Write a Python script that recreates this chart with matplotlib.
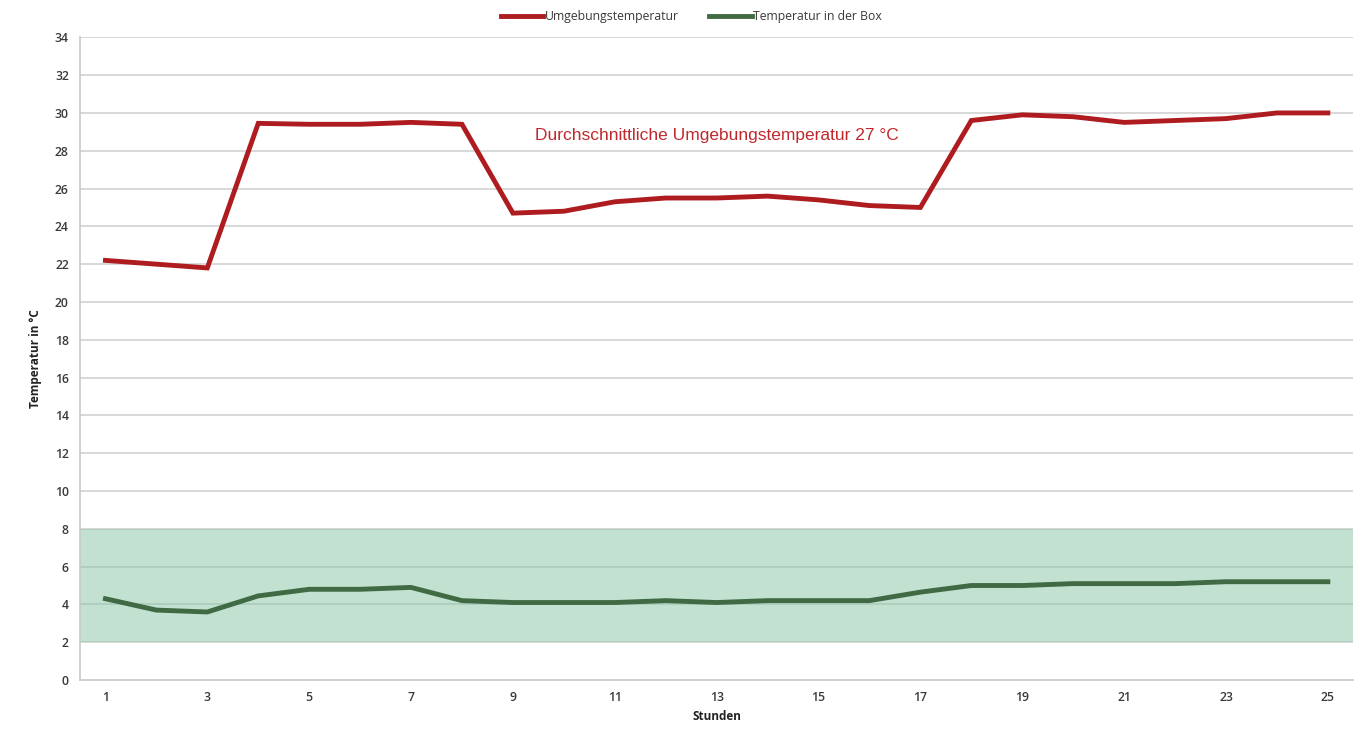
import matplotlib
matplotlib.use("Agg")
import matplotlib.pyplot as plt
from matplotlib import font_manager

# Stunden
stunden = list(range(1, 26))

# Umgebungstemperatur
umgebung = [22.2, 22.0, 21.8, 29.45, 29.4, 29.4, 29.5, 29.4, 24.7, 24.8,
            25.3, 25.5, 25.5, 25.6, 25.4, 25.1, 25.0, 29.6, 29.9, 29.8,
            29.5, 29.6, 29.7, 30.0, 30.0]

# Temperatur in der Box
box = [4.3, 3.7, 3.6, 4.45, 4.8, 4.8, 4.9, 4.2, 4.1, 4.1,
       4.1, 4.2, 4.1, 4.2, 4.2, 4.2, 4.65, 5.0, 5.0, 5.1,
       5.1, 5.1, 5.2, 5.2, 5.2]

band_unten = 2
band_oben = 8
y_ticks = list(range(0, 36, 2))
x_ticks = list(range(1, 26, 2))

namen = [f.name for f in font_manager.fontManager.ttflist]
schmal = "Liberation Sans Narrow" if "Liberation Sans Narrow" in namen else "Liberation Sans"

plt.rcParams['font.family'] = ['Open Sans', 'DejaVu Sans']

fig = plt.figure(figsize=(13.67, 7.32), dpi=100)
ax = fig.add_axes([0.0585, 0.071, 0.9315, 0.878])

# Gitterlinien, darueber halbtransparentes Band (Linien bleiben sichtbar)
for y in y_ticks[1:]:
    ax.axhline(y, color="#d2d2d2", lw=1.2, zorder=1)
ax.axhspan(band_unten, band_oben, color="#87c5a5", alpha=0.5, lw=0, zorder=2)

ax.plot(stunden, umgebung, color="#ae1c1f", lw=3.5, label="Umgebungstemperatur",
        zorder=3, solid_joinstyle="miter")
ax.plot(stunden, box, color="#3f6a44", lw=3.5, label="Temperatur in der Box",
        zorder=3, solid_joinstyle="miter")

ax.text(13.0, 28.8, "Durchschnittliche Umgebungstemperatur 27 °C", color="#c0282d",
        fontsize=12.5, family=schmal, ha="center", va="center")

ax.set_xlim(0.5, 25.5)
ax.set_ylim(0, 34)
ax.set_xticks(x_ticks)
ax.set_yticks(y_ticks)
ax.tick_params(axis="both", length=0, labelsize=8.8, labelcolor="#3a3a3a", pad=8)
for lab in ax.get_xticklabels() + ax.get_yticklabels():
    lab.set_fontweight("semibold")

for s in ["top", "right"]:
    ax.spines[s].set_visible(False)
for s in ["left", "bottom"]:
    ax.spines[s].set_color("#c8c8c8")
    ax.spines[s].set_linewidth(1.2)

ax.set_xlabel("Stunden", fontsize=8.5, fontweight="bold", color="#222222", labelpad=4)
ax.set_ylabel("Temperatur in °C", fontsize=8.5, fontweight="bold", color="#222222", labelpad=9)

leg = ax.legend(loc="lower center", bbox_to_anchor=(0.48, 1.005), ncol=2, frameon=False,
                fontsize=8.8, handlelength=3.5, handletextpad=0.1, columnspacing=2.5)
for t in leg.get_texts():
    t.set_color("#3a3a3a")

fig.savefig("out.png", dpi=100)
